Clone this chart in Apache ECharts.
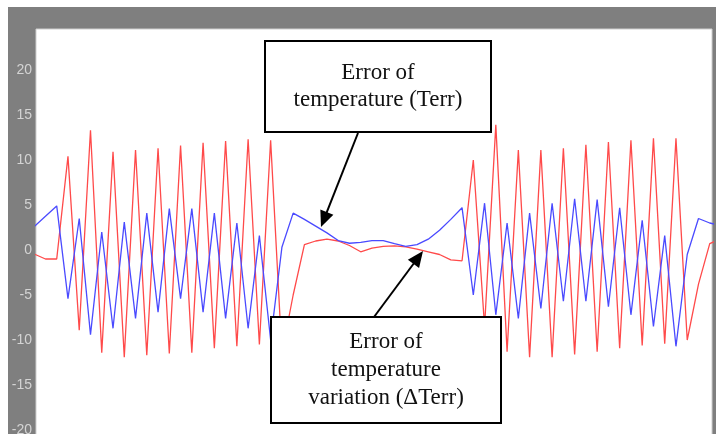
<!DOCTYPE html>
<html>
<head>
<meta charset="utf-8">
<script src="https://cdn.jsdelivr.net/npm/echarts@6/dist/echarts.min.js"></script>
<style>
html,body{margin:0;padding:0;background:#fff;}
#chart{width:716px;height:434px;}
</style>
</head>
<body>
<div id="chart"></div>
<script>
// Error of temperature variation (ΔTerr) – red
var deltaTerr = [
  -0.45, -1.0, -1.0, 10.4, -8.9, 13.3, -11.4, 10.9, -11.9, 11.1, -11.7, 11.3,
  -11.5, 11.6, -11.4, 11.9, -10.9, 12.1, -10.7, 12.3, -10.5, 12.2,
  -11.5, -5.0, 0.6, 1.0, 1.2, 1.0, 0.5, -0.2, 0.2, 0.4, 0.45, 0.35, 0.1, -0.2, -0.5, -1.1, -1.2,
  10.0, -8.5, 13.9, -11.3, 11.1, -11.9, 11.1, -11.9, 11.3, -11.6, 11.7, -11.3,
  12.0, -10.9, 12.2, -10.6, 12.4, -10.4, 12.4, -10.0, -3.8, 0.7, 1.3
];
// Error of temperature (Terr) – blue
var terr = [
  2.6, 3.75, 4.9, -5.4, 3.5, -9.4, 2.0, -8.7, 3.1, -7.6, 4.1, -6.9,
  4.6, -5.4, 4.6, -6.9, 4.1, -7.6, 3.0, -8.7, 1.6, -10.0,
  0.3, 4.1, 3.4, 2.65, 1.9, 1.05, 0.75, 0.85, 1.05, 1.05, 0.7, 0.4, 0.6, 1.2, 2.2, 3.4, 4.7,
  -5.0, 5.2, -7.2, 3.0, -7.6, 4.1, -6.5, 5.2, -5.7, 5.7, -5.7, 5.6,
  -6.3, 4.7, -7.2, 3.3, -8.5, 1.6, -10.7, -0.5, 3.5, 3.0, 2.7
];
var yTicks = [-20, -15, -10, -5, 0, 5, 10, 15, 20];
var boxTopLines = ['Error of', 'temperature (Terr)'];
var boxBottomLines = ['Error of', 'temperature', 'variation (\u0394Terr)'];

function pairs(arr){ return arr.map(function(v,i){ return [i, v]; }); }

function arrow(x1,y1,x2,y2,z){
  var dx=x2-x1, dy=y2-y1, L=Math.sqrt(dx*dx+dy*dy), ux=dx/L, uy=dy/L;
  var hl=16, hw=7;
  var bx=x2-ux*hl, by=y2-uy*hl;
  return [
    {type:'line', z:z, shape:{x1:x1,y1:y1,x2:bx+ux*2,y2:by+uy*2}, style:{stroke:'#000',lineWidth:2}},
    {type:'polygon', z:z, shape:{points:[[x2,y2],[bx-uy*hw,by+ux*hw],[bx+uy*hw,by-ux*hw]]}, style:{fill:'#000'}}
  ];
}
function textBox(x,y,w,h,lines,lineH,z){
  var els=[{type:'rect', z:z, shape:{x:x,y:y,width:w,height:h}, style:{fill:'#fff',stroke:'#000',lineWidth:2}}];
  var cx=x+w/2, cy=y+h/2, n=lines.length;
  lines.forEach(function(t,k){
    els.push({type:'text', z:z+1, style:{text:t, x:cx, y:cy+(k-(n-1)/2)*lineH, textAlign:'center', textVerticalAlign:'middle', font:'23px "Liberation Serif", "Times New Roman", serif', fill:'#111'}});
  });
  return els;
}

var chart = echarts.init(document.getElementById('chart'), null, {renderer:'canvas'});
var graphics = [
  {type:'rect', z:0, silent:true, shape:{x:8,y:7,width:708,height:430}, style:{fill:'#7f7f7f'}},
  {type:'rect', z:0, silent:true, shape:{x:36,y:29,width:676,height:410}, style:{fill:'#ffffff',stroke:'#cfcfcf',lineWidth:1}}
];
graphics = graphics.concat(textBox(265,41,226,91,boxTopLines,27,100));
graphics = graphics.concat(arrow(358,133,321,227,100));
graphics = graphics.concat(textBox(271,317,230,106,boxBottomLines,28,100));
graphics = graphics.concat(arrow(374,317,423,251,100));

chart.setOption({
  animation:false,
  backgroundColor:'#fff',
  grid:{left:36, top:25, width:676, height:450, show:false, containLabel:false, outerBoundsMode:'none'},
  xAxis:{type:'value', min:0.16, max:60.2, show:false},
  yAxis:{type:'value', min:-25, max:25, interval:5,
    axisLine:{show:false}, axisTick:{show:false}, splitLine:{show:false},
    axisLabel:{margin:4, color:'#d4d4d4', fontSize:14, fontFamily:'"Liberation Sans", Arial, sans-serif',
      formatter:function(v){ return yTicks.indexOf(v)>=0 ? String(v) : ''; }}
  },
  graphic:{elements:graphics},
  series:[
    {type:'line', name:'ΔTerr', data:pairs(deltaTerr), symbol:'none', z:2,
      lineStyle:{color:'#ff4a4a', width:1.3}},
    {type:'line', name:'Terr', data:pairs(terr), symbol:'none', z:3,
      lineStyle:{color:'#4a4aff', width:1.3}}
  ]
});
</script>
</body>
</html>
